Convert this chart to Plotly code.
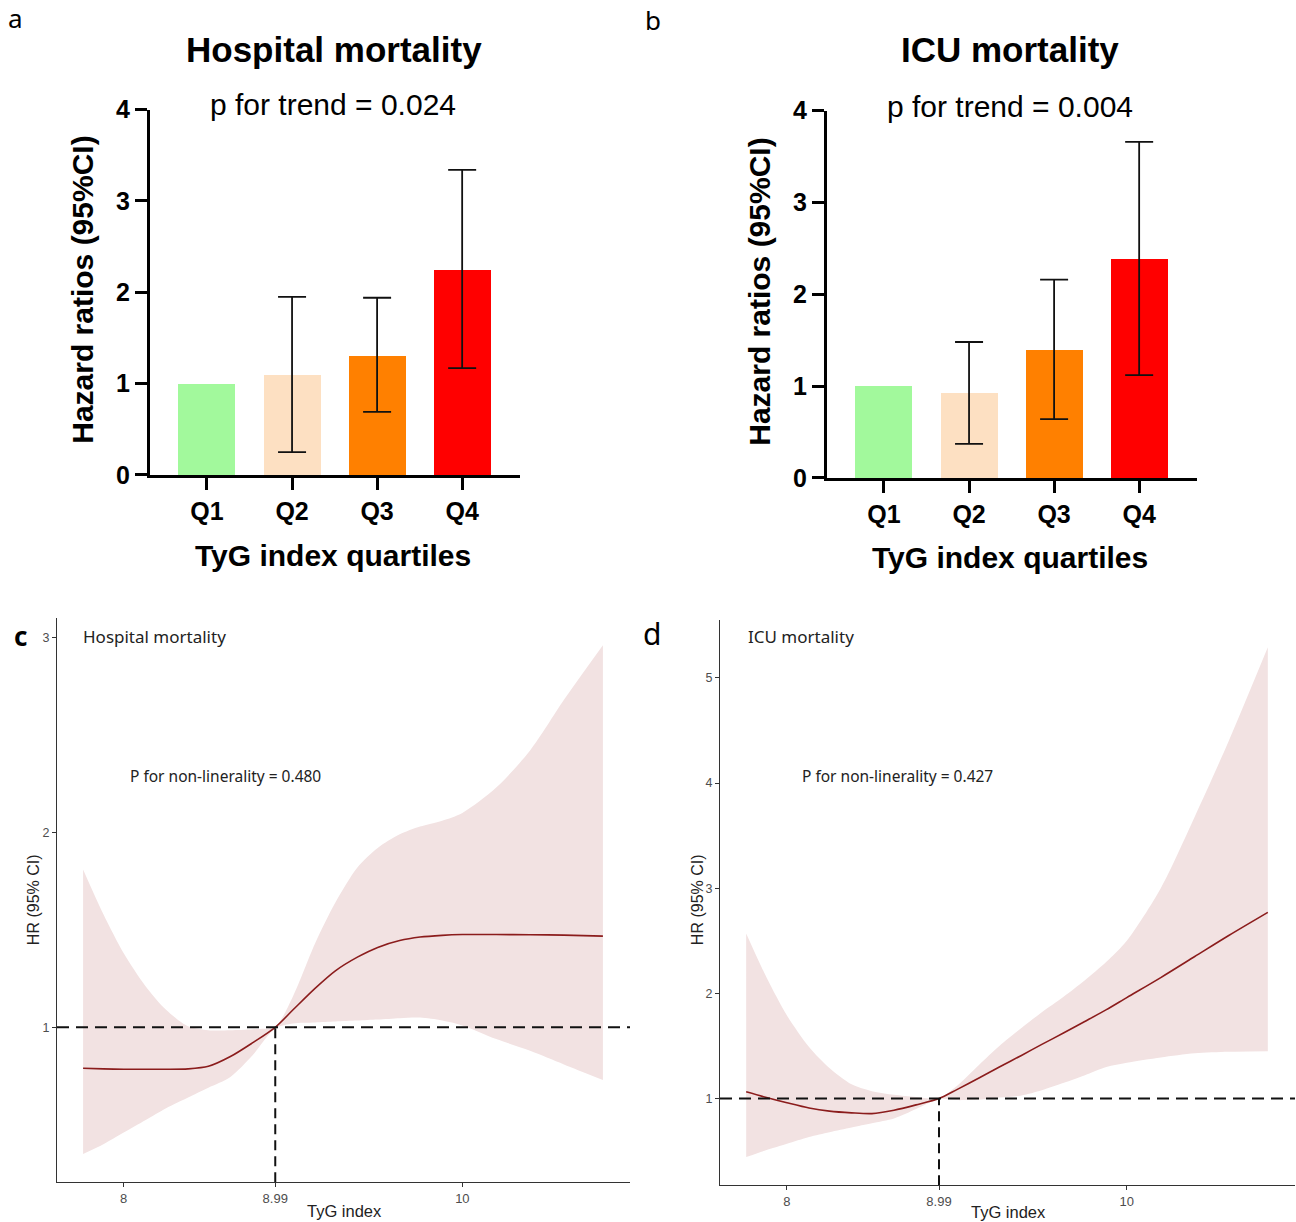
import plotly.graph_objects as go

W, H = 1296, 1250
# observed vertical placement of the figure inside the photographed page
OFF, SC = 14.4, 0.977

# ---------------- data ----------------
quartiles = ["Q1", "Q2", "Q3", "Q4"]
bar_colors = ["#a2f99c", "#fde0c2", "#ff8000", "#ff0000"]

hosp_hr = [1.00, 1.10, 1.31, 2.25]
hosp_lo = [None, 0.25, 0.69, 1.17]
hosp_hi = [None, 1.95, 1.94, 3.34]

icu_hr = [1.00, 0.93, 1.40, 2.39]
icu_lo = [None, 0.37, 0.64, 1.12]
icu_hi = [None, 1.48, 2.16, 3.66]

tyg = [7.76, 7.88, 8.0, 8.13, 8.25, 8.38, 8.5, 8.63, 8.76, 8.895, 9.0, 9.13,
       9.25, 9.38, 9.5, 9.63, 9.75, 9.88, 10.0, 10.2, 10.4, 10.6, 10.83]

c_hr = [0.79, 0.787, 0.785, 0.785, 0.785, 0.787, 0.80, 0.85, 0.92, 1.0, 1.09, 1.20,
        1.29, 1.36, 1.41, 1.445, 1.463, 1.472, 1.476, 1.476, 1.475, 1.473, 1.468]
c_up = [1.81, 1.58, 1.38, 1.21, 1.09, 1.005, 0.985, 0.985, 0.99, 1.005, 1.16, 1.43,
        1.64, 1.82, 1.92, 1.99, 2.03, 2.06, 2.10, 2.23, 2.42, 2.68, 2.96]
c_lo = [0.35, 0.40, 0.46, 0.525, 0.585, 0.64, 0.69, 0.745, 0.855, 0.995, 1.02, 1.025,
        1.03, 1.035, 1.04, 1.047, 1.05, 1.035, 1.01, 0.94, 0.88, 0.81, 0.73]

d_hr = [1.064, 1.01, 0.96, 0.91, 0.88, 0.864, 0.857, 0.889, 0.94, 1.0, 1.085, 1.195,
        1.30, 1.41, 1.515, 1.625, 1.73, 1.845, 1.96, 2.15, 2.35, 2.55, 2.77]
d_up = [2.57, 2.15, 1.79, 1.49, 1.29, 1.135, 1.07, 1.035, 1.015, 1.005, 1.12, 1.32,
        1.50, 1.67, 1.82, 1.97, 2.12, 2.30, 2.50, 3.00, 3.68, 4.40, 5.29]
d_lo = [0.444, 0.51, 0.57, 0.635, 0.68, 0.725, 0.765, 0.81, 0.90, 0.995, 0.985, 0.99,
        1.01, 1.03, 1.08, 1.15, 1.22, 1.30, 1.34, 1.39, 1.43, 1.445, 1.45]

ref_tyg = 8.895
x_ticks = [8, ref_tyg, 10]
x_ticktext = ["8", "8.99", "10"]

# ---------------- helpers ----------------
def fx(p):
    return p / W

def fy(p):
    return 1 - ((p - OFF) / SC) / H

ARIAL = "Liberation Sans, Arial, sans-serif"
SEGOE = "Noto Sans, Open Sans, sans-serif"

fig = go.Figure()

# ---------------- bar panels ----------------
def add_bars(hr, lo, hi, xa, ya):
    fig.add_trace(go.Bar(
        x=quartiles, y=hr, marker=dict(color=bar_colors, line=dict(width=0)),
        width=0.67, xaxis=xa, yaxis=ya, showlegend=False))
    xs = [q for q, l in zip(quartiles, lo) if l is not None]
    ys = [h for h, l in zip(hr, lo) if l is not None]
    plus = [u - h for h, u, l in zip(hr, hi, lo) if l is not None]
    minus = [h - l for h, l in zip(hr, lo) if l is not None]
    fig.add_trace(go.Scatter(
        x=xs, y=ys, mode="markers", marker=dict(size=1, opacity=0),
        error_y=dict(type="data", symmetric=False, array=plus, arrayminus=minus,
                     color="#111111", thickness=1.8, width=14),
        xaxis=xa, yaxis=ya, showlegend=False))

add_bars(hosp_hr, hosp_lo, hosp_hi, "x", "y")
add_bars(icu_hr, icu_lo, icu_hi, "x2", "y2")

# ---------------- spline panels ----------------
RIBBON = "#f2e2e2"
LINE = "#8b1c1c"

def add_spline(up, lo, hr, xa, ya):
    fig.add_trace(go.Scatter(x=tyg, y=up, mode="lines",
                             line=dict(width=0, shape="spline", smoothing=0.8),
                             xaxis=xa, yaxis=ya, showlegend=False, hoverinfo="skip"))
    fig.add_trace(go.Scatter(x=tyg, y=lo, mode="lines",
                             line=dict(width=0, shape="spline", smoothing=0.8),
                             fill="tonexty", fillcolor=RIBBON,
                             xaxis=xa, yaxis=ya, showlegend=False, hoverinfo="skip"))
    fig.add_trace(go.Scatter(x=tyg, y=hr, mode="lines",
                             line=dict(color=LINE, width=1.6, shape="spline", smoothing=0.8),
                             xaxis=xa, yaxis=ya, showlegend=False))

add_spline(c_up, c_lo, c_hr, "x3", "y3")
add_spline(d_up, d_lo, d_hr, "x4", "y4")

c_yrange = [0.205, 3.10]
d_yrange = [0.175, 5.55]
x_range = [7.606, 10.99]

# reference dashed lines
for xa, ya, yr in [("x3", "y3", c_yrange), ("x4", "y4", d_yrange)]:
    fig.add_shape(type="line", xref=f"{xa} domain", yref=ya, x0=0, x1=1, y0=1, y1=1,
                  line=dict(color="#111111", width=2, dash="12px,7px"))
    fig.add_shape(type="line", xref=xa, yref=ya, x0=ref_tyg, x1=ref_tyg, y0=yr[0], y1=1,
                  line=dict(color="#111111", width=2, dash="10px,6px"))

# ---------------- axes ----------------
bar_x = dict(type="category", range=[-0.67, 3.68], showline=True, linecolor="black",
             linewidth=3, ticks="outside", ticklen=12, tickwidth=3, tickcolor="black",
             showgrid=False, zeroline=False,
             tickfont=dict(family=ARIAL, size=25, color="black", weight="bold"))
bar_y = dict(range=[0, 4], tickvals=[0, 1, 2, 3, 4], showline=True, linecolor="black",
             linewidth=3, ticks="outside", ticklen=12, tickwidth=3, tickcolor="black",
             showgrid=False, zeroline=False,
             tickfont=dict(family=ARIAL, size=25, color="black", weight="bold"))
spl_x = dict(range=x_range, tickvals=x_ticks, ticktext=x_ticktext, showline=True,
             linecolor="#333333", linewidth=1.2, ticks="outside", ticklen=4, tickwidth=1,
             tickcolor="#333333", showgrid=False, zeroline=False,
             tickfont=dict(family=ARIAL, size=13, color="#4d4d4d"))
spl_y = dict(showline=True, linecolor="#333333", linewidth=1.2, ticks="outside", ticklen=4,
             tickwidth=1, tickcolor="#333333", showgrid=False, zeroline=False,
             tickfont=dict(family=ARIAL, size=12.5, color="#4d4d4d"))

fig.update_layout(
    width=W, height=H, margin=dict(l=0, r=0, t=0, b=0),
    paper_bgcolor="white", plot_bgcolor="white", bargap=0,
    xaxis=dict(bar_x, domain=[fx(150), fx(520)], anchor="y"),
    yaxis=dict(bar_y, domain=[fy(475), fy(110)], anchor="x"),
    xaxis2=dict(bar_x, domain=[fx(827), fx(1197)], anchor="y2"),
    yaxis2=dict(bar_y, domain=[fy(478), fy(111)], anchor="x2"),
    xaxis3=dict(spl_x, domain=[fx(57), fx(630)], anchor="y3"),
    yaxis3=dict(spl_y, range=c_yrange, tickvals=[1, 2, 3], domain=[fy(1182), fy(618)], anchor="x3"),
    xaxis4=dict(spl_x, domain=[fx(720), fx(1295)], anchor="y4"),
    yaxis4=dict(spl_y, range=d_yrange, tickvals=[1, 2, 3, 4, 5], domain=[fy(1185), fy(620)], anchor="x4"),
)

# ---------------- text ----------------
def ann(text, x, y, size, family=ARIAL, xanchor="center", angle=0, color="black"):
    fig.add_annotation(text=text, x=fx(x), y=fy(y), xref="paper", yref="paper",
                       showarrow=False, xanchor=xanchor, yanchor="middle",
                       textangle=angle, font=dict(family=family, size=size, color=color))

# panel letters
ann("a", 15, 18, 26, SEGOE)
ann("b", 653, 20, 26, SEGOE)
ann("<b>c</b>", 20, 636, 26, SEGOE)
ann("d", 652, 634, 30, SEGOE)

# bar panel texts
ann("<b>Hospital mortality</b>", 334, 50, 35)
ann("<b>ICU mortality</b>", 1010, 50, 35)
ann("p for trend = 0.024", 333, 105, 30)
ann("p for trend = 0.004", 1010, 107, 30)
ann("<b>Hazard ratios (95%CI)</b>", 83, 290, 30, angle=-90)
ann("<b>Hazard ratios (95%CI)</b>", 760, 292, 30, angle=-90)
ann("<b>TyG index quartiles</b>", 333, 556, 30)
ann("<b>TyG index quartiles</b>", 1010, 558, 30)

# spline panel texts
ann("Hospital mortality", 81, 637, 17, SEGOE, xanchor="left", color="#222222")
ann("ICU mortality", 746, 637, 17, SEGOE, xanchor="left", color="#222222")
ann("P for non-linerality = 0.480", 128, 776, 15.5, SEGOE, xanchor="left", color="#222222")
ann("P for non-linerality = 0.427", 800, 776, 15.5, SEGOE, xanchor="left", color="#222222")
ann("HR (95% CI)", 33, 900, 16, angle=-90, color="#222222")
ann("HR (95% CI)", 697, 900, 16, angle=-90, color="#222222")
ann("TyG index", 344, 1211, 16.5, color="#222222")
ann("TyG index", 1008, 1212, 16.5, color="#222222")

fig.write_html("out.html")
